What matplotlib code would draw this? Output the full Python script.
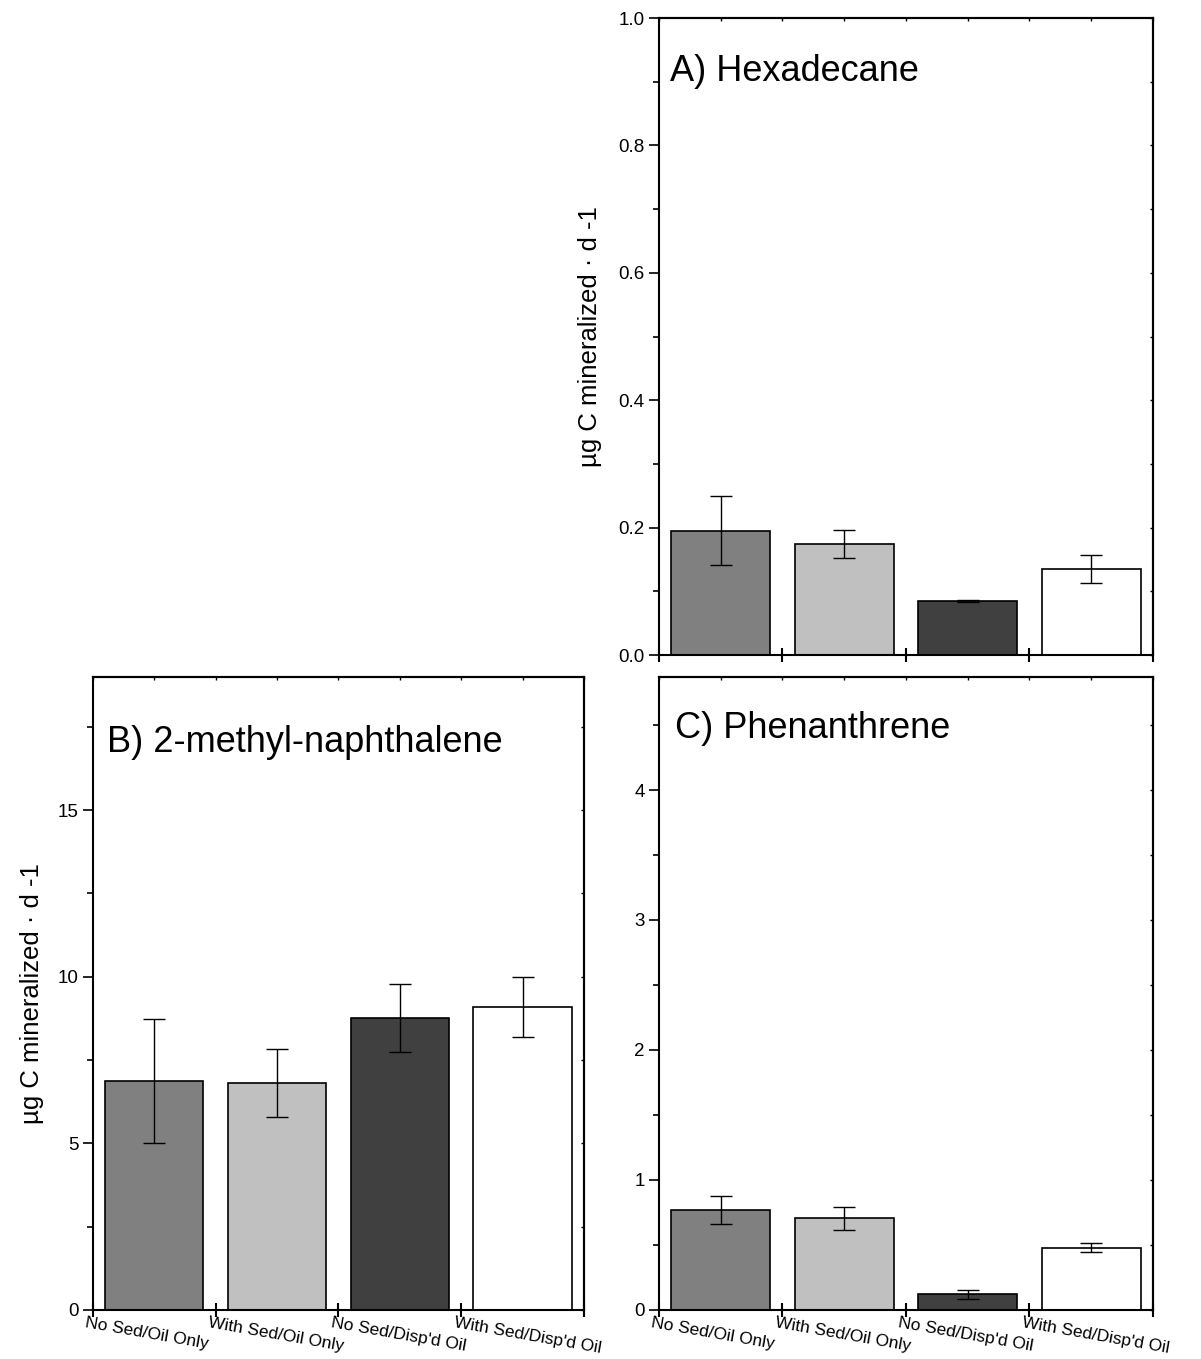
import numpy as np
import matplotlib.pyplot as plt
import matplotlib as mpl
from matplotlib.transforms import ScaledTranslation

"""
三种烃类的矿化速率柱状图
"""

# 处理组与颜色
groups = ['No Sed/Oil Only', 'With Sed/Oil Only',
          "No Sed/Disp'd Oil", "With Sed/Disp'd Oil"]
colors = ['#808080', '#c0c0c0', '#404040', '#ffffff']

# 各物质的平均值与误差
hexadecane = [0.195, 0.175, 0.085, 0.135]
hexadecane_err = [0.054, 0.022, 0.002, 0.022]
methylnaph = [6.86, 6.80, 8.77, 9.10]
methylnaph_err = [1.86, 1.02, 1.02, 0.90]
phenanthrene = [0.77, 0.705, 0.12, 0.48]
phenanthrene_err = [0.11, 0.09, 0.036, 0.038]

ylabel = 'µg C mineralized · d -1'


def draw(ax, title, y, err, ymax, step, fmt, title_xy,
         xlabels=True, label_x=-0.115):
    x = np.arange(len(y)) + 0.5
    ax.bar(x, y, width=0.8, color=colors, edgecolor='black',
           linewidth=1.2, zorder=2)
    ax.errorbar(x, y, yerr=err, fmt='none', ecolor='black', elinewidth=1.0,
                capsize=8, capthick=1.0, zorder=3)
    ax.set_xlim(0, 4)
    ax.set_ylim(0, ymax)

    # y轴刻度
    ax.yaxis.set_major_locator(mpl.ticker.MultipleLocator(step))
    ax.yaxis.set_minor_locator(mpl.ticker.MultipleLocator(step / 2))
    ax.yaxis.set_major_formatter(mpl.ticker.FormatStrFormatter(fmt))
    ax.tick_params(axis='y', which='major', direction='out', length=7.2,
                   width=1.2, labelsize=13.5, pad=3)
    ax.tick_params(axis='y', which='minor', direction='out', length=4.3,
                   width=1.2)

    # x轴刻度在组边界上
    ax.set_xticks(range(len(y) + 1))
    ax.tick_params(axis='x', which='major', direction='inout', length=10,
                   width=1.5, labelsize=12.5, pad=-1)
    if xlabels:
        ax.set_xticklabels(groups + [''], rotation=-10, ha='left', va='top',
                           rotation_mode='anchor')
        shift = ScaledTranslation(-6 / 100, 0, ax.figure.dpi_scale_trans)
        for lab in ax.get_xticklabels():
            lab.set_transform(lab.get_transform() + shift)
    else:
        ax.set_xticklabels([])

    # 上、右两边的内向短刻度
    top = ax.secondary_xaxis('top')
    top.set_xticks(range(len(y) + 1))
    top.xaxis.set_minor_locator(mpl.ticker.FixedLocator(x))
    top.xaxis.set_major_formatter(mpl.ticker.NullFormatter())
    top.tick_params(which='both', direction='in', length=2.5, width=1)
    right = ax.secondary_yaxis('right')
    right.yaxis.set_major_locator(mpl.ticker.MultipleLocator(step))
    right.yaxis.set_minor_locator(mpl.ticker.MultipleLocator(step / 2))
    right.yaxis.set_major_formatter(mpl.ticker.NullFormatter())
    right.tick_params(which='both', direction='in', length=2.5, width=1)
    for sec in (top, right):
        for sp in sec.spines.values():
            sp.set_linewidth(1.5)
    for sp in ax.spines.values():
        sp.set_linewidth(1.5)

    ax.set_ylabel(ylabel, fontsize=18.5)
    ax.yaxis.set_label_coords(label_x, 0.5)
    ax.text(title_xy[0], title_xy[1], title, transform=ax.transAxes,
            fontsize=26, va='baseline', ha='left')


if __name__ == '__main__':
    plt.rcParams['font.family'] = ['Liberation Sans', 'DejaVu Sans']
    fig = plt.figure(figsize=(12.01, 13.59), dpi=100)

    ax_a = fig.add_axes([0.5487, 0.518, 0.4113, 0.4687])
    ax_b = fig.add_axes([0.0774, 0.0361, 0.4088, 0.4658])
    ax_c = fig.add_axes([0.5487, 0.0361, 0.4113, 0.4658])

    draw(ax_a, 'A) Hexadecane', hexadecane, hexadecane_err, 1.0, 0.2, '%.1f',
         (0.022, 1 - 63 / 637), xlabels=False, label_x=-0.115)
    draw(ax_b, 'B) 2-methyl-naphthalene', methylnaph, methylnaph_err, 19, 5,
         '%d', (0.029, 1 - 75 / 633), label_x=-0.1)
    draw(ax_c, 'C) Phenanthrene', phenanthrene, phenanthrene_err, 4.87, 1,
         '%d', (0.032, 1 - 61 / 633))
    ax_c.set_ylabel('')

    plt.savefig('out.png', dpi=100)
